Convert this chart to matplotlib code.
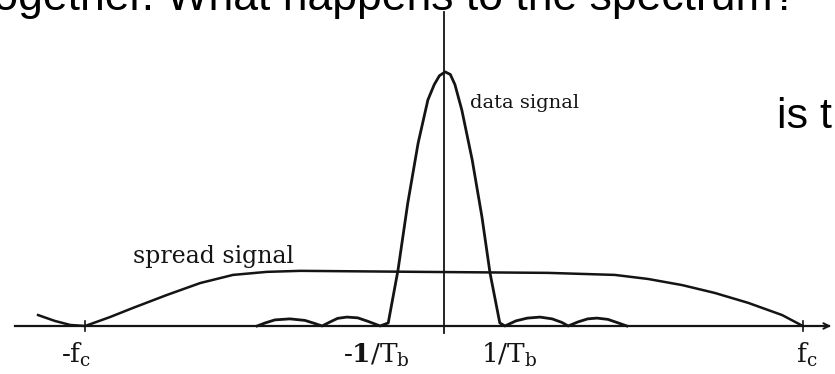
import matplotlib
matplotlib.use("Agg")
import matplotlib.pyplot as plt

plt.rcParams['mathtext.fontset'] = 'dejavuserif'

# Frequency in units of 1/Tb, amplitude relative to data-signal peak
FC = 6.25

# data signal (sinc-like main lobe with side lobes)
f_data = [-3.25, -3.11, -2.94, -2.68, -2.42, -2.25, -2.12,
          -1.98, -1.85, -1.69, -1.50, -1.32, -1.11, -0.97,
          -0.80, -0.63, -0.45, -0.28, -0.17, -0.08, 0.02, 0.11, 0.19, 0.31,
          0.49, 0.66, 0.80, 0.97, 1.06,
          1.25, 1.45, 1.67, 1.88, 2.05, 2.16,
          2.33, 2.50, 2.66, 2.85, 3.03, 3.18]
a_data = [0.0, 0.012, 0.024, 0.028, 0.022, 0.010, 0.0,
          0.016, 0.030, 0.035, 0.032, 0.018, 0.0, 0.012,
          0.22, 0.484, 0.72, 0.89, 0.95, 0.985, 1.0, 0.99, 0.95, 0.85,
          0.654, 0.429, 0.209, 0.012, 0.0,
          0.020, 0.031, 0.035, 0.028, 0.014, 0.0,
          0.016, 0.028, 0.031, 0.026, 0.012, 0.0]

# spread signal (wide, flat spectrum)
f_spread = [-7.06, -6.77, -6.50, -6.24, -5.81, -5.41, -4.82, -4.24,
            -3.67, -3.08, -2.50, -0.42, 1.81, 2.97, 3.55, 4.14,
            4.71, 5.29, 5.88, 6.24]
a_spread = [0.043, 0.020, 0.004, 0.0, 0.035, 0.071, 0.122, 0.169,
            0.201, 0.213, 0.217, 0.213, 0.209, 0.201, 0.185, 0.161,
            0.130, 0.091, 0.043, 0.0]

tick_labels = ['-f$_\\mathrm{c}$', '-$\\mathbf{1}$/T$_\\mathrm{b}$',
               '1/T$_\\mathrm{b}$', 'f$_\\mathrm{c}$']
label_pos = [-6.4, -1.18, 1.13, 6.3]

ink = '#141414'

fig = plt.figure(figsize=(8.35, 3.74), dpi=100)
ax = fig.add_axes([0, 0, 1, 1])
ax.set_xlim(-7.722, 6.80)
ax.set_ylim(-0.189, 1.283)
ax.set_axis_off()

# axes of the sketch
ax.plot([-7.46, 6.70], [0, 0], color=ink, lw=1.6)
ax.annotate('', xy=(6.78, 0), xytext=(6.55, 0),
            arrowprops=dict(arrowstyle='->', color=ink, lw=1.4))
ax.plot([0, 0], [-0.028, 1.236], color=ink, lw=1.3)
for f in [-FC, FC]:
    ax.plot([f, f], [-0.018, 0.018], color=ink, lw=1.2)

# curves
ax.plot(f_data, a_data, color=ink, lw=2.0, solid_joinstyle='round')
ax.plot(f_spread, a_spread, color=ink, lw=1.8, solid_joinstyle='round')

# labels
for x, lab in zip(label_pos, tick_labels):
    ax.text(x, -0.114, lab, ha='center', va='center', fontsize=19,
            family='DejaVu Serif', color=ink)

ax.text(-5.41, 0.248, 'spread signal', family='DejaVu Serif',
        fontsize=17, color=ink, va='baseline', ha='left')
ax.text(0.45, 0.858, 'data signal', family='DejaVu Serif',
        fontsize=14, color=ink, va='baseline', ha='left')

# slide text around the picture (cut by the frame)
fig.text(797 / 835, 1 - 10 / 374, 'together. What happens to the spectrum?',
         family='Liberation Sans', fontsize=32, color='black',
         ha='right', va='baseline')
fig.text(777 / 835, 1 - 128 / 374, 'is t', family='Liberation Sans',
         fontsize=31, color='black', ha='left', va='baseline')

plt.savefig('out.png', dpi=100)
plt.close()
